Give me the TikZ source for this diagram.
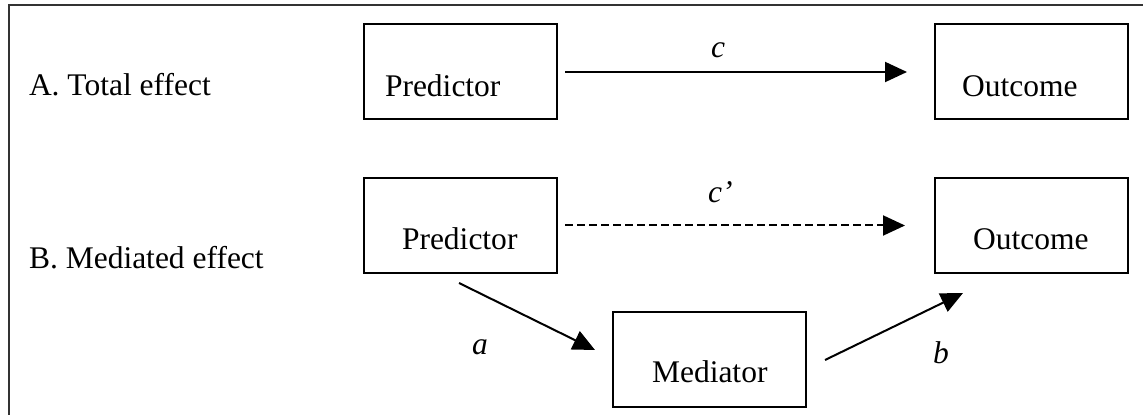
\documentclass[tikz,border=0pt]{standalone}
\usepackage{fontspec}
\setmainfont{Liberation Serif}
\usetikzlibrary{arrows.meta,calc}
\begin{document}
\begin{tikzpicture}[x=0.5pt,y=-0.5pt,
  font=\fontsize{15.75}{19}\selectfont,
  boxnode/.style={draw,line width=1pt,rectangle,minimum width=96.5pt,minimum height=47.5pt,inner sep=0pt,outer sep=0pt},
  txt/.style={anchor=base west,inner sep=0pt,outer sep=0pt},
  lbl/.style={anchor=base west,inner sep=0pt,outer sep=0pt,font=\fontsize{15.75}{19}\selectfont\itshape},
  effect/.style={line width=1pt,-{Triangle[length=11pt,width=10pt]}},
  direct/.style={effect,dash pattern=on 4pt off 2pt}]
\useasboundingbox (0,0) rectangle (1143,415);
\begin{scope}
\clip (0,0) rectangle (1143,415);
% outer frame, running off the right and bottom edges
\draw[line width=1pt,black!80] (9,430) -- (9,5) -- (1160,5);
\end{scope}

% panel titles
\node[txt] (titleA) at (29,95.5) {A. Total effect};
\node[txt] (titleB) at (29,269) {B. Mediated effect};

% boxes
\node[boxnode] (predA) at (460.5,71.5) {};
\node[boxnode] (outA)  at (1031.5,71.5) {};
\node[boxnode] (predB) at (460.5,225.5) {};
\node[boxnode] (outB)  at (1031.5,225.5) {};
\node[boxnode] (med)   at (709.5,360) {};

% box texts
\node[txt] (predAt) at (385,96.5) {Predictor};
\node[txt] (outAt)  at (962,96.5) {Outcome};
\node[txt] (predBt) at (402,250) {Predictor};
\node[txt] (outBt)  at (973,250) {Outcome};
\node[txt] (medt)   at (652,383) {Mediator};

% paths
\draw[effect] ($(predA.east)+(8,0.5)$) -- ($(outA.west)+(-28,0.5)$);
\draw[direct] ($(predB.east)+(8,0)$) -- ($(outB.west)+(-30,0)$);
\draw[effect] ($(predB.south)+(-1.5,10)$) -- ($(med.west)+(-18,-10)$);
\draw[effect] ($(med.east)+(19,0)$) -- ($(outB.south west)+(28,20)$);

% path labels
\node[lbl] (lc)  at (711,58) {c};
\node[lbl] (lcp) at (708,203) {c’};
\node[lbl] (la)  at (472,355) {a};
\node[lbl] (lb)  at (933,364) {b};
\end{tikzpicture}
\end{document}
